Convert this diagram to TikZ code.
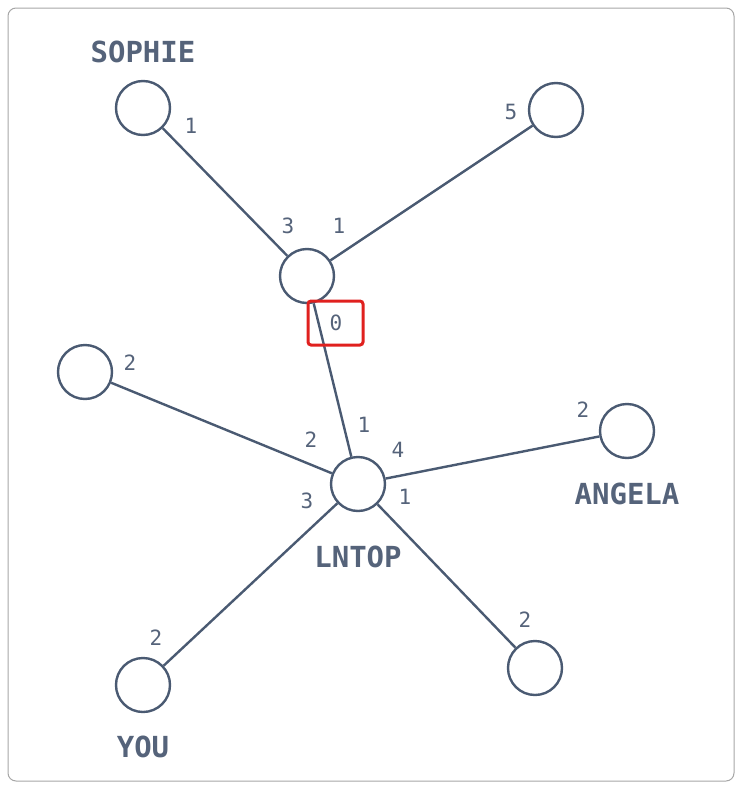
\documentclass[tikz,border=0pt]{standalone}
\usepackage{fontspec}
\setmainfont{DejaVu Sans Mono}
\definecolor{slate}{HTML}{4A5A72}
\definecolor{txt}{HTML}{55637A}
\definecolor{redbox}{HTML}{E0201E}
\begin{document}
\begin{tikzpicture}[x=1pt,y=-1pt,
  vert/.style={circle,draw=slate,line width=2.4pt,minimum size=54pt,inner sep=0pt,fill=white},
  edge/.style={draw=slate,line width=2.4pt},
  vlabel/.style={text=txt,font=\fontsize{29}{29}\selectfont\bfseries,inner sep=0pt},
  num/.style={text=txt,font=\fontsize{21}{21}\selectfont,inner sep=0pt}]
\useasboundingbox (0,0) rectangle (744,790);
\draw[draw=gray!70,line width=1pt,rounded corners=8pt] (8,8) rectangle (734,781);
% vertices
\node[vert] (sophie) at (143,108) {};
\node[vert] (tr) at (556,110) {};
\node[vert] (hub) at (307,276) {};
\node[vert] (left) at (85,372) {};
\node[vert] (lntop) at (358,484) {};
\node[vert] (angela) at (627,431) {};
\node[vert] (you) at (143,685) {};
\node[vert] (br) at (535,668) {};
% edges
\draw[edge] (sophie) -- (hub);
\draw[edge] (tr) -- (hub);
\draw[edge] (hub) -- (lntop);
\draw[edge] (left) -- (lntop);
\draw[edge] (angela) -- (lntop);
\draw[edge] (you) -- (lntop);
\draw[edge] (br) -- (lntop);
% names
\node[vlabel] (nsophie) at (143,52) {SOPHIE};
\node[vlabel] (nangela) at (627,494) {ANGELA};
\node[vlabel] (nlntop) at (358,557) {LNTOP};
\node[vlabel] (nyou) at (143,747) {YOU};
% numbers
\node[num] (a1) at (191,126) {1};
\node[num] (a2) at (511,112) {5};
\node[num] (a3) at (288,226) {3};
\node[num] (a4) at (339,226) {1};
\node[num] (a5) at (130,363) {2};
\node[num] (a6) at (311,440) {2};
\node[num] (a7) at (364,425) {1};
\node[num] (a8) at (398,450) {4};
\node[num] (a9) at (307,501) {3};
\node[num] (a10) at (405,497) {1};
\node[num] (a11) at (583,410) {2};
\node[num] (a12) at (156,638) {2};
\node[num] (a13) at (525,620) {2};
% highlighted zero
\node[num] (zero) at (336,323) {0};
\draw[draw=redbox,line width=3pt,rounded corners=3pt] (308,301) rectangle (363,345);
\end{tikzpicture}
\end{document}
